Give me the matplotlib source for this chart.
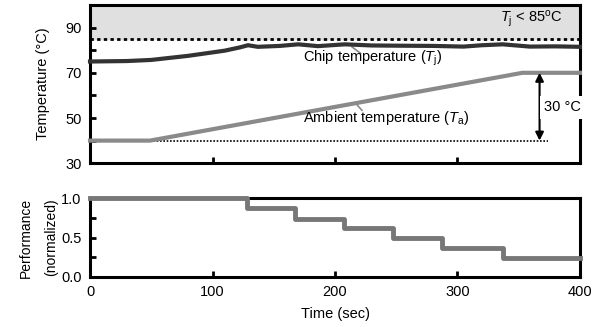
import matplotlib
matplotlib.use("Agg")
import matplotlib.pyplot as plt
from matplotlib.ticker import MultipleLocator, FuncFormatter

# data
chip_t = [0, 30, 50, 80, 110, 122, 129, 137, 155, 170, 186, 208, 230, 250, 280, 305, 320, 337, 359, 380, 400]
chip_T = [75.0, 75.2, 75.7, 77.5, 79.8, 81.2, 82.2, 81.5, 81.9, 82.6, 81.8, 82.6, 82.1, 82.0, 81.9, 81.6, 82.2, 82.6, 81.6, 81.7, 81.5]
amb_t = [0, 49, 353, 400]
amb_T = [40, 40, 70, 70]
perf_t = [0, 128, 167, 207, 247, 287, 337, 400]
perf_v = [1.0, 0.87, 0.74, 0.62, 0.49, 0.37, 0.24, 0.24]
limit_T = 85
base_T = 40
arrow_t = 367

plt.rcParams['font.family'] = ['Liberation Sans', 'DejaVu Sans']
plt.rcParams['font.size'] = 10
plt.rcParams['mathtext.fontset'] = 'custom'
plt.rcParams['mathtext.rm'] = 'Liberation Sans'
plt.rcParams['mathtext.it'] = 'Liberation Sans:italic'

fig = plt.figure(figsize=(5.97, 3.27), dpi=100)
ax1 = fig.add_axes([0.1508, 0.5009, 0.8207, 0.4838])
ax2 = fig.add_axes([0.1508, 0.1538, 0.8207, 0.2398])

for ax in (ax1, ax2):
    for s in ax.spines.values():
        s.set_linewidth(2.2)
    ax.set_xlim(0, 400)
    ax.xaxis.set_major_locator(MultipleLocator(100))
    ax.tick_params(direction='in', length=4, width=2, pad=6, labelsize=10.5)

# top panel
ax1.set_ylim(30, 100)
ax1.axhspan(limit_T, 100, color='#e0e0e0', zorder=0)
ax1.axhline(limit_T, color='black', ls=(0, (1.2, 1.2)), lw=2, zorder=1)
ax1.plot([amb_t[1], 374], [base_T, base_T], color='black', ls=(0, (1, 1)), lw=1.2)
ax1.plot(chip_t, chip_T, color='#333333', lw=3, clip_on=False, zorder=3)
ax1.plot(amb_t, amb_T, color='#8a8a8a', lw=3, clip_on=False, zorder=3)
ax1.yaxis.set_major_locator(MultipleLocator(10))
ax1.yaxis.set_major_formatter(FuncFormatter(lambda v, p: f"{v:.0f}" if int(round(v)) % 20 == 10 else ""))
ax1.set_xticklabels([])
ax1.set_ylabel("Temperature (\u00b0C)", fontsize=10.5)
ax1.yaxis.set_label_coords(-0.082, 0.5)

ax1.annotate("", xy=(arrow_t, amb_T[-1]), xytext=(arrow_t, base_T),
             arrowprops=dict(arrowstyle='<|-|>', color='black', lw=1.5,
                             mutation_scale=12, shrinkA=0, shrinkB=0))
ax1.text(371, 54.7, "30 \u00b0C", ha='left', va='center', fontsize=10.5,
         bbox=dict(facecolor='white', edgecolor='none', pad=3), zorder=5, clip_on=False)
ax1.text(386, 93.8, r"$\mathit{T}_\mathrm{j}$ < 85$^\mathrm{o}$C", ha='right', va='center', fontsize=10.5)

ax1.text(174, 76.2, "Chip temperature ($\\mathit{T}_\\mathrm{j}$)", ha='left', va='center', fontsize=10.5)
ax1.plot([214, 221], [81.4, 78.6], color='#8a8a8a', lw=1.2)
ax1.text(174, 49.9, "Ambient temperature ($\\mathit{T}_\\mathrm{a}$)", ha='left', va='center', fontsize=10.5)
ax1.plot([217, 222], [56.4, 53.4], color='#8a8a8a', lw=1.2)

# bottom panel
ax2.set_ylim(0, 1.0)
ax2.step(perf_t, perf_v, where='post', color='#777777', lw=3.5, clip_on=False, zorder=3)
ax2.yaxis.set_major_locator(MultipleLocator(0.25))
ax2.yaxis.set_major_formatter(FuncFormatter(lambda v, p: f"{v:.1f}" if abs(v * 2 - round(v * 2)) < 1e-6 else ""))
ax2.set_xlabel("Time (sec)", labelpad=6, fontsize=10.5)
ax2.set_ylabel("Performance\n(normalized)", fontsize=10, linespacing=2.0)
ax2.yaxis.set_label_coords(-0.066, 0.5)

fig.savefig("out.png", dpi=100)
